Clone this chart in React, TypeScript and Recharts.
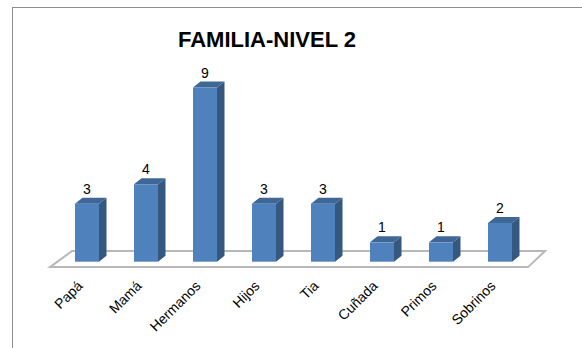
import React from 'react'
import { BarChart, Bar, XAxis, YAxis, LabelList, ReferenceArea } from 'recharts'

const categories = ['Papá', 'Mamá', 'Hermanos', 'Hijos', 'Tia', 'Cuñada', 'Primos', 'Sobrinos']
const values = [3, 4, 9, 3, 3, 1, 1, 2]

const data = categories.map((name, i) => ({ name, value: values[i] }))

const FONT = '"Liberation Sans", Arial, sans-serif'
const DX = 7.5
const DY = -6

// 3D-looking column: front face, dark side, top cap
function Column3D(props: any) {
  const { x, y, width, height } = props
  if (height == null || width == null) return null
  const r = x + width
  const b = y + height
  return (
    <g>
      <polygon
        points={`${r},${b} ${r + DX},${b + DY} ${r + DX},${y + DY} ${r},${y}`}
        fill="#34587f"
      />
      <polygon
        points={`${x},${y} ${x + DX},${y + DY} ${r + DX},${y + DY} ${r},${y}`}
        fill="#3f6796"
      />
      <rect x={x} y={y} width={width} height={height} fill="#4f81bd" />
    </g>
  )
}

// floor of the 3D plot, drawn from the reference area box
function Floor(props: any) {
  const { x, y, width, height } = props
  const front = y + height
  const pts = [
    [x - 7, front],
    [x + width - 1, front],
    [x + width + 16, y],
    [x + 15, y],
  ]
  return (
    <polygon
      points={pts.map((p) => p.join(',')).join(' ')}
      fill="#ffffff"
      stroke="#b8b8b8"
      strokeWidth={2}
    />
  )
}

function AngledTick(props: any) {
  const { x, y, payload } = props
  const ax = x - 3
  const ay = y + 17
  return (
    <text
      x={ax}
      y={ay}
      textAnchor="end"
      fontFamily={FONT}
      fontSize={14}
      fill="#000"
      transform={`rotate(-45, ${ax}, ${ay})`}
    >
      {payload.value}
    </text>
  )
}

export default function App() {
  return (
    <div
      style={{
        position: 'absolute',
        left: 0,
        top: 0,
        width: 582,
        height: 348,
        background: '#fff',
        overflow: 'hidden',
      }}
    >
      <div
        style={{
          position: 'absolute',
          left: 12,
          top: 7,
          width: 640,
          height: 400,
          borderLeft: '1px solid #8e8e8e',
          borderTop: '1px solid #8e8e8e',
        }}
      />
      <div
        style={{
          position: 'absolute',
          left: 0,
          top: 29,
          width: 534,
          textAlign: 'center',
          fontFamily: FONT,
          fontWeight: 'bold',
          fontSize: 22,
          lineHeight: '22px',
          color: '#000',
        }}
      >
        FAMILIA-NIVEL 2
      </div>
      <div style={{ position: 'absolute', left: 0, top: 0 }}>
        <BarChart
          width={582}
          height={348}
          data={data}
          margin={{ top: 87.5, right: 53, bottom: 56.3, left: 57 }}
          barSize={24}
        >
          <YAxis hide domain={[0, 9]} />
          <XAxis
            dataKey="name"
            height={30}
            axisLine={false}
            tickLine={false}
            interval={0}
            tick={<AngledTick />}
          />
          <ReferenceArea
            y1={-0.28}
            y2={0.55}
            ifOverflow="visible"
            shape={<Floor />}
          />
          <Bar dataKey="value" shape={<Column3D />} isAnimationActive={false}>
            <LabelList
              dataKey="value"
              position="top"
              offset={10}
              fontFamily={FONT}
              fontSize={14}
              fill="#000"
            />
          </Bar>
        </BarChart>
      </div>
    </div>
  )
}
